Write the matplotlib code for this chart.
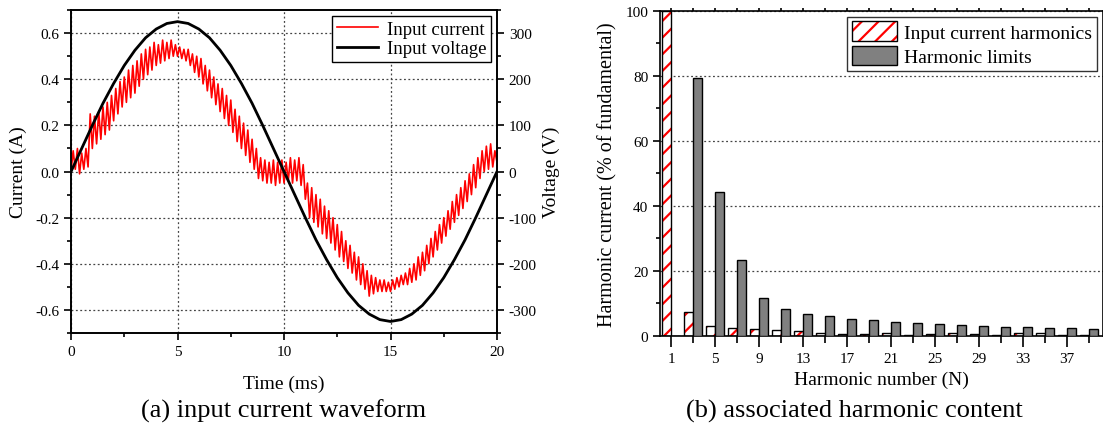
"""
Input current waveform and its harmonic content (two panels).
"""

import numpy as np
import matplotlib
matplotlib.use("Agg")
import matplotlib.pyplot as plt
from matplotlib.ticker import MultipleLocator
from matplotlib.patches import Patch

plt.rcParams["font.family"] = ["Liberation Serif", "DejaVu Serif"]
plt.rcParams["hatch.linewidth"] = 1.6
plt.rcParams["axes.unicode_minus"] = False

# ---- panel (a): waveform data, read every 0.1 ms ----
time_ms = [round(0.1 * k, 1) for k in range(201)]
current_a = [
    0.00, 0.09, 0.01, 0.10, -0.01, 0.08, 0.01, 0.10, 0.02, 0.25,
    0.10, 0.24, 0.12, 0.26, 0.14, 0.28, 0.16, 0.30, 0.18, 0.33,
    0.22, 0.36, 0.25, 0.39, 0.28, 0.41, 0.30, 0.44, 0.32, 0.46,
    0.34, 0.48, 0.37, 0.51, 0.40, 0.53, 0.42, 0.54, 0.44, 0.56,
    0.46, 0.55, 0.47, 0.57, 0.48, 0.56, 0.49, 0.57, 0.50, 0.55,
    0.50, 0.54, 0.49, 0.53, 0.48, 0.53, 0.46, 0.51, 0.43, 0.50,
    0.41, 0.49, 0.38, 0.46, 0.35, 0.44, 0.32, 0.41, 0.29, 0.38,
    0.26, 0.36, 0.23, 0.33, 0.20, 0.31, 0.17, 0.27, 0.13, 0.24,
    0.10, 0.21, 0.07, 0.18, 0.04, 0.14, 0.01, 0.10, -0.03, 0.06,
    -0.04, 0.05, -0.05, 0.04, -0.05, 0.05, -0.06, 0.04, -0.05, 0.05,
    -0.05, 0.04, -0.04, 0.06, -0.05, 0.05, -0.04, 0.06, -0.06, 0.03,
    -0.12, -0.05, -0.20, -0.07, -0.22, -0.10, -0.24, -0.12, -0.27, -0.15,
    -0.29, -0.17, -0.31, -0.20, -0.34, -0.23, -0.37, -0.26, -0.39, -0.30,
    -0.42, -0.32, -0.44, -0.35, -0.47, -0.37, -0.49, -0.40, -0.51, -0.43,
    -0.54, -0.45, -0.53, -0.46, -0.52, -0.47, -0.52, -0.47, -0.52, -0.48,
    -0.52, -0.47, -0.51, -0.46, -0.50, -0.45, -0.49, -0.44, -0.49, -0.42,
    -0.48, -0.40, -0.47, -0.37, -0.45, -0.35, -0.43, -0.32, -0.40, -0.29,
    -0.37, -0.26, -0.34, -0.23, -0.31, -0.20, -0.28, -0.17, -0.25, -0.13,
    -0.22, -0.10, -0.19, -0.07, -0.16, -0.04, -0.13, -0.01, -0.10, 0.03,
    -0.07, 0.06, -0.03, 0.09, 0.00, 0.11, 0.01, 0.12, 0.02, 0.09,
    0.04,
]

# voltage read every 0.5 ms
volt_time_ms = [round(0.5 * k, 1) for k in range(41)]
voltage_v = [
    0, 50, 100, 148, 191, 230, 263, 290, 309, 321,
    325, 321, 309, 290, 263, 230, 191, 148, 100, 50,
    0, -50, -100, -148, -191, -230, -263, -290, -309, -321,
    -325, -321, -309, -290, -263, -230, -191, -148, -100, -50,
    0,
]

# ---- panel (b): harmonic data ----
harmonic_n = list(range(1, 40, 2))
input_harmonics = [100, 7.3, 3.0, 2.5, 2.1, 1.7, 1.5, 1.0, 0.7, 0.5,
                   0.8, 0.3, 0.7, 1.0, 0.5, 0.2, 0.8, 0.8, 0.4, 0.4]
harmonic_limits = [0, 79.3, 44.3, 23.3, 11.7, 8.2, 6.8, 6.0, 5.3, 4.8,
                   4.3, 3.9, 3.6, 3.3, 3.1, 2.9, 2.7, 2.6, 2.4, 2.3]

fig = plt.figure(figsize=(11.03, 4.27), dpi=100, facecolor="white")
grid_style = dict(ls=(0, (1.5, 2)), color="#444444", lw=0.9)

# ---------------- (a) ----------------
ax1 = fig.add_axes([0.0644, 0.2178, 0.3862, 0.7562])
ax1.plot(time_ms, current_a, color="red", lw=1.2, label="Input current")
ax1.plot([], [], color="black", lw=2, label="Input voltage")
ax1.set_xlim(0, 20)
ax1.set_ylim(-0.7, 0.7)
ax1.xaxis.set_major_locator(MultipleLocator(5))
ax1.xaxis.set_minor_locator(MultipleLocator(2.5))
ax1.yaxis.set_minor_locator(MultipleLocator(0.1))
ax1.set_yticks([-0.6, -0.4, -0.2, 0.0, 0.2, 0.4, 0.6])
ax1.set_yticklabels(["-0.6", "-0.4", "-0.2", "0.0", "0.2", "0.4", "0.6"])
ax1.grid(True, which="major", **grid_style)
ax1.set_xlabel("Time (ms)", fontsize=14, labelpad=12)
ax1.set_ylabel("Current (A)", fontsize=14, labelpad=6)
ax1.tick_params(which="both", direction="out", labelsize=11)
ax1.tick_params(which="major", length=5, width=1.2)
ax1.tick_params(which="minor", length=3, width=1.2)
for sp in ax1.spines.values():
    sp.set_linewidth(1.2)

ax2 = ax1.twinx()
ax2.plot(volt_time_ms, voltage_v, color="black", lw=2)
ax2.set_ylim(-350, 350)
ax2.yaxis.set_major_locator(MultipleLocator(100))
ax2.yaxis.set_minor_locator(MultipleLocator(50))
ax2.set_ylabel("Voltage (V)", fontsize=14, labelpad=4)
ax2.tick_params(which="both", direction="out", labelsize=11)
ax2.tick_params(which="major", length=5, width=1.2)
ax2.tick_params(which="minor", length=3, width=1.2)
for sp in ax2.spines.values():
    sp.set_linewidth(1.2)

leg = ax2.legend(*ax1.get_legend_handles_labels(), loc="upper right",
                 fontsize=13.5, fancybox=False, edgecolor="black",
                 borderaxespad=0.3, handlelength=2.2, borderpad=0.25,
                 labelspacing=0.15, handletextpad=0.5)
leg.get_frame().set_linewidth(1.0)
leg.get_frame().set_alpha(1)

# ---------------- (b) ----------------
ax3 = fig.add_axes([0.5984, 0.2108, 0.4016, 0.7618])
w = 0.8
n = np.array(harmonic_n)
# hatched red bars (white fill, red hatch), then black outline
ax3.bar(n - w / 2, input_harmonics, width=w, color="white",
        edgecolor="red", hatch="//", lw=0, zorder=2)
ax3.bar(n - w / 2, input_harmonics, width=w, fill=False,
        edgecolor="black", lw=1.0, zorder=3)
ax3.bar(n + w / 2, harmonic_limits, width=w, color="#808080",
        edgecolor="black", lw=1.0, zorder=3)

h1 = (Patch(facecolor="white", edgecolor="red", hatch="//", lw=0),
      Patch(fill=False, edgecolor="black", lw=1.0))
h2 = Patch(facecolor="#808080", edgecolor="black", lw=1.0)
leg2 = ax3.legend([h1, h2], ["Input current harmonics", "Harmonic limits"],
                  loc="upper right", fontsize=14, fancybox=False,
                  edgecolor="black", borderaxespad=0.3, borderpad=0.25,
                  labelspacing=0.2, handlelength=2.3, handleheight=1.15,
                  handletextpad=0.4)
leg2.get_frame().set_linewidth(1.0)

ax3.set_xlim(0, 40.3)
ax3.set_ylim(0, 100)
ax3.set_xticks(list(range(1, 40, 4)))
ax3.set_xticks(list(range(3, 40, 4)), minor=True)
ax3.yaxis.set_major_locator(MultipleLocator(20))
ax3.yaxis.set_minor_locator(MultipleLocator(10))
ax3.yaxis.grid(True, which="major", **grid_style)
ax3.set_axisbelow(True)
ax3.set_xlabel("Harmonic number (N)", fontsize=14, labelpad=4)
ax3.set_ylabel("Harmonic current (% of fundamental)", fontsize=14.5,
               labelpad=6)
ax3.tick_params(which="both", direction="out", labelsize=11)
ax3.tick_params(axis="x", which="major", length=8, width=1.2)
ax3.tick_params(axis="x", which="minor", length=5, width=1.2)
ax3.tick_params(axis="x", which="both", top=True, direction="out",
                bottom=True)
ax3.xaxis.set_tick_params(which="both", labeltop=False)
for t in ax3.xaxis.get_major_ticks() + ax3.xaxis.get_minor_ticks():
    t.tick2line.set_markersize(2)
ax3.tick_params(axis="y", which="major", length=5, width=1.2)
ax3.tick_params(axis="y", which="minor", length=3, width=1.2)
for sp in ax3.spines.values():
    sp.set_linewidth(1.2)

fig.text(0.257, 0.022, "(a) input current waveform", ha="center", fontsize=19)
fig.text(0.775, 0.022, "(b) associated harmonic content", ha="center",
         fontsize=19)

fig.savefig("out.png", dpi=100)
